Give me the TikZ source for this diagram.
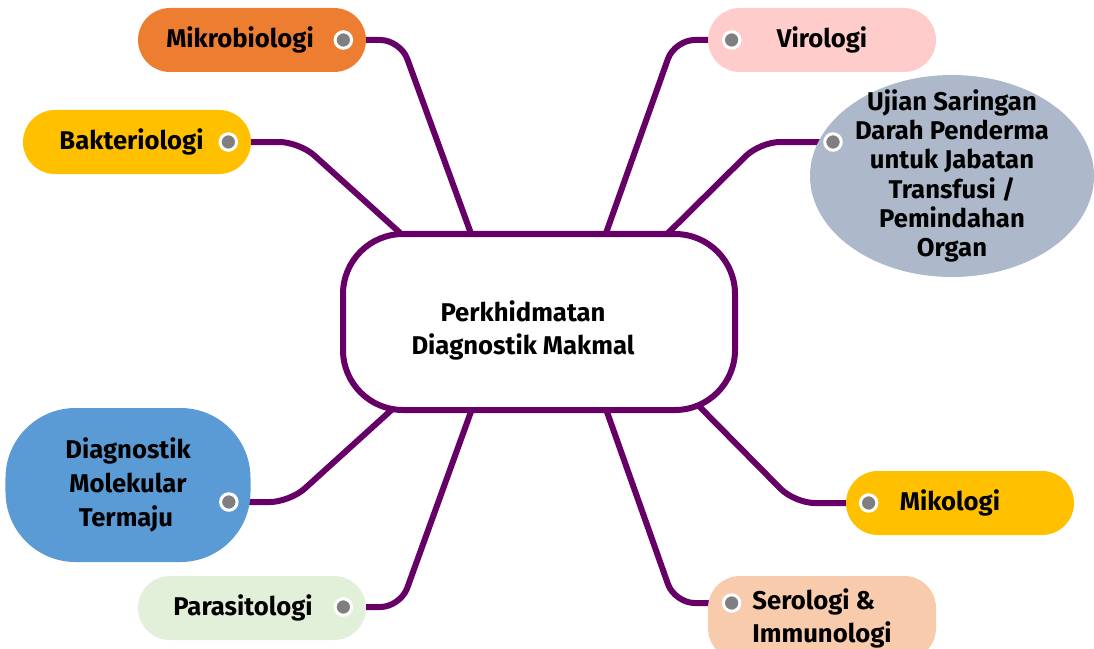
\documentclass[tikz,border=0pt]{standalone}
\usepackage{fontspec}
\setmainfont{Fira Sans}
\usetikzlibrary{positioning,calc,shapes.geometric,backgrounds}
\definecolor{linkpurple}{HTML}{660066}
\definecolor{mikroorange}{HTML}{ED7D31}
\definecolor{bakteriyellow}{HTML}{FFC000}
\definecolor{viropink}{HTML}{FFCCCC}
\definecolor{ujiangrey}{HTML}{ADB9CA}
\definecolor{molekularblue}{HTML}{5B9BD5}
\definecolor{parasitgreen}{HTML}{E2F0D9}
\definecolor{serologipeach}{HTML}{F8CBAD}
\definecolor{dotgrey}{HTML}{7F7F7F}

\begin{document}
\begin{tikzpicture}[
    x=0.2mm, y=-0.2mm,
    font=\fontsize{14.6}{18.8}\selectfont\bfseries,
    hub/.style={
        draw=linkpurple, line width=1.2mm, fill=white,
        rounded corners=12mm,
        minimum width=78.4mm, minimum height=35.2mm
    },
    pill/.style={
        rounded corners=6.4mm,
        minimum width=45.6mm, minimum height=12.8mm,
        inner sep=0pt, align=center
    },
    link/.style={draw=linkpurple, line width=1.2mm, rounded corners=4mm},
    bullet/.style={
        circle, fill=dotgrey, draw=white, line width=0.6mm,
        minimum size=3.3mm, inner sep=0pt
    }
  ]

  \useasboundingbox (0,0) rectangle (1094,649);

  \node[hub] (hub) at (539,322) {};
  \node[align=center] (hubtext) at ($(hub.center)+(-16,8)$)
      {Perkhidmatan\\Diagnostik Makmal};

  \node[pill, fill=mikroorange]   (mikro)   at (252,40)  {Mikrobiologi\hspace*{4.8mm}};
  \node[pill, fill=bakteriyellow] (bakteri) at (137,142) {Bakteriologi\hspace*{2.2mm}};
  \node[pill, fill=viropink]      (viro)    at (822,40)  {Virologi};
  \node[pill, fill=parasitgreen]  (parasit) at (252,608) {Parasitologi\hspace*{3.6mm}};
  \node[pill, fill=bakteriyellow] (mikologi) at (960,503) {Mikologi\hspace*{4mm}};
  \node[pill, fill=serologipeach, minimum height=16.8mm, align=left]
      (serologi) at (822,618) {Serologi \&\\Immunologi};

  \node[ellipse, fill=ujiangrey, minimum width=56.8mm, minimum height=40.4mm]
      (ujian) at (952,176) {};
  \node[align=center, font=\fontsize{14.6}{16.6}\selectfont\bfseries]
      (ujiantext) at (ujian.center)
      {Ujian Saringan\\Darah Penderma\\untuk Jabatan\\Transfusi /\\Pemindahan\\Organ};

  \node[pill, fill=molekularblue, rounded corners=14mm,
        minimum width=49mm, minimum height=30.8mm,
        font=\fontsize{14.6}{19.2}\selectfont\bfseries]
      (molekular) at (128,485) {Diagnostik\\Molekular\\Termaju\hspace*{0.8mm}};

  \node[bullet] (mikrodot)     at ($(mikro.east)+(-23,0)$) {};
  \node[bullet] (bakteridot)   at ($(bakteri.east)+(-23,0)$) {};
  \node[bullet] (virodot)      at ($(viro.west)+(24,0)$) {};
  \node[bullet] (parasitdot)   at ($(parasit.east)+(-23,-1)$) {};
  \node[bullet] (mikologidot)  at ($(mikologi.west)+(23,0)$) {};
  \node[bullet] (serologidot)  at ($(serologi.west)+(24,-15)$) {};
  \node[bullet] (ujiandot)     at ($(ujian.center)+(-119,-34)$) {};
  \node[bullet] (molekulardot) at ($(molekular.east)+(-22,17)$) {};

  \begin{scope}[on background layer]
    \draw[link] (mikrodot.center) -- ++(57,0) -- ($(hub.center)+(-62,-72)$);
    \draw[link] (bakteridot.center) -- ++(71,0) -- ($(hub.center)+(-120,-72)$);
    \draw[link] (virodot.center) -- ++(-57,0) -- ($(hub.center)+(61,-72)$);
    \draw[link] (ujiandot.center) -- ++(-73,0) -- ($(hub.center)+(112,-72)$);
    \draw[link] (molekulardot.center) -- ++(61,0) -- ($(hub.center)+(-131,73)$);
    \draw[link] (parasitdot.center) -- ++(57,0) -- ($(hub.center)+(-62,73)$);
    \draw[link] (mikologidot.center) -- ++(-74,0) -- ($(hub.center)+(149,73)$);
    \draw[link] (serologidot.center) -- ++(-57,0) -- ($(hub.center)+(62,73)$);
  \end{scope}

\end{tikzpicture}
\end{document}
